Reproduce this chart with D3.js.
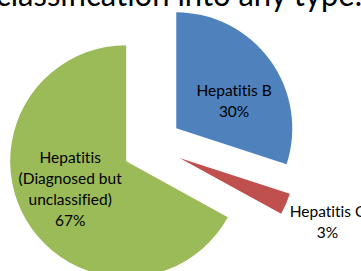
<!DOCTYPE html>
<html>
<head>
<meta charset="utf-8">
<script src="https://cdn.jsdelivr.net/npm/d3@7"></script>
<style>
  html, body { margin: 0; padding: 0; background: #fff; }
  svg { display: block; }
  text { font-variant-ligatures: none; font-feature-settings: "liga" 0; }
</style>
</head>
<body>
<svg id="chart1"></svg>
<script>
// data
var categories = ["Hepatitis B", "Hepatitis C", "Hepatitis (Diagnosed but unclassified)"];
var labelLines = [["Hepatitis B"], ["Hepatitis C"], ["Hepatitis", "(Diagnosed but", "unclassified)"]];
var values = [30, 3, 67];
var colors = ["#4F81BD", "#C0504D", "#9BBB59"];
var titleText = "classification into any type.";

var dimensions = {
    width: 361,
    height: 271,
    cx: 152,
    cy: 146,
    radius: 116,
    explode: 30
};

var svg = d3.select("#chart1")
    .attr("width", dimensions.width)
    .attr("height", dimensions.height);

// title line cut at the top
svg.append("text")
    .attr("x", -4)
    .attr("y", 6)
    .attr("textLength", 366)
    .attr("lengthAdjust", "spacingAndGlyphs")
    .style("font-family", "Lato, 'Open Sans', sans-serif")
    .style("font-size", "32px")
    .attr("fill", "#000")
    .text(titleText);

var pie = d3.pie().sort(null).value(d => d);
var arcs = pie(values);

var arc = d3.arc().innerRadius(0).outerRadius(dimensions.radius);

var total = d3.sum(values);

// where each label sits (fraction of radius, angle shift in degrees)
var labelPlace = [
    {r: 0.55, shift: 11},
    {r: 1.39, shift: 0},
    {r: 0.54, shift: 4}
];

var g = svg.append("g")
    .attr("transform", `translate(${dimensions.cx},${dimensions.cy})`);

arcs.forEach((a, i) => {
    var mid = (a.startAngle + a.endAngle) / 2;
    var ox = Math.sin(mid) * dimensions.explode;
    var oy = -Math.cos(mid) * dimensions.explode;

    var slice = g.append("g")
        .attr("transform", `translate(${ox},${oy})`);

    slice.append("path")
        .attr("d", arc(a))
        .attr("fill", colors[i]);

    var la = mid + labelPlace[i].shift * Math.PI / 180;
    var lr = dimensions.radius * labelPlace[i].r;
    var lx = Math.sin(la) * lr;
    var ly = -Math.cos(la) * lr;

    var lines = labelLines[i].concat([Math.round(values[i] / total * 100) + "%"]);
    var lineH = 21;
    var t = slice.append("text")
        .attr("text-anchor", "middle")
        .style("font-family", "Lato, 'Open Sans', sans-serif")
        .style("font-size", "15.5px")
        .attr("fill", "#000");
    lines.forEach((line, j) => {
        t.append("tspan")
            .attr("x", lx)
            .attr("y", ly + (j - (lines.length - 1) / 2) * lineH + 5.5)
            .text(line);
    });
});
</script>
</body>
</html>
